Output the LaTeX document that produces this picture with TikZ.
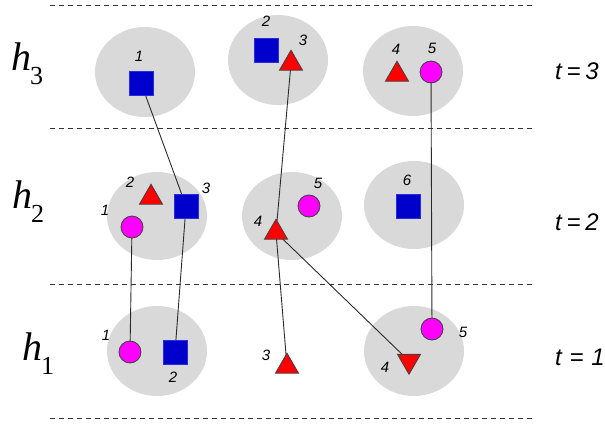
\documentclass[tikz,border=0pt]{standalone}
\usepackage{fontspec}
\newfontfamily\labfont{Liberation Sans}
\newfontfamily\hfont{Liberation Serif}
\usetikzlibrary{shapes.geometric}
\pgfdeclarelayer{bg}
\pgfsetlayers{bg,main}
\definecolor{cellgray}{HTML}{D9D9D9}
\definecolor{sqblue}{HTML}{0000CC}
\definecolor{sqedge}{HTML}{2A2AE0}
\definecolor{trired}{HTML}{FF0000}
\definecolor{circmag}{HTML}{FF00FF}
\definecolor{linkcol}{HTML}{2A2A2A}
\tikzset{
  cell/.style={fill=cellgray},
  sepline/.style={draw=black!80, line width=0.9pt, dash pattern=on 5pt off 4pt},
  sqnode/.style={rectangle, minimum size=23.5pt, inner sep=0pt, fill=sqblue, draw=sqedge, line width=0.5pt},
  cnode/.style={circle, minimum size=22pt, inner sep=0pt, fill=circmag, draw=black!75, line width=0.8pt},
  tnode/.style={regular polygon, regular polygon sides=3, minimum size=26.6pt, inner sep=0pt, fill=trired, draw=black!75, line width=0.8pt},
  tdown/.style={tnode, shape border rotate=180},
  lab/.style={font=\labfont\itshape\fontsize{15}{15}\selectfont, inner sep=0pt},
  tlab/.style={font=\labfont\itshape\fontsize{24}{24}\selectfont, inner sep=0pt, anchor=base west},
  hlab/.style={inner sep=0pt, anchor=base west},
  link/.style={draw=linkcol, line width=0.9pt},
}
\newcommand{\hname}[1]{{\hfont\fontsize{40}{40}\selectfont\itshape h}\kern-1pt\raisebox{-14pt}{\hfont\fontsize{26}{26}\selectfont #1}}
\begin{document}
\begin{tikzpicture}[x=1pt,y=-1pt]
\useasboundingbox (0,0) rectangle (605,423);
% cells
\begin{pgfonlayer}{bg}
\fill[cell] (145,72) ellipse [x radius=50, y radius=45];
\fill[cell] (278,60) ellipse [x radius=50, y radius=45];
\fill[cell] (413,71) ellipse [x radius=50, y radius=45];
\fill[cell] (157,216) ellipse [x radius=50, y radius=44];
\fill[cell] (292,216) ellipse [x radius=50, y radius=44];
\fill[cell] (414,205) ellipse [x radius=50, y radius=44];
\fill[cell] (157,351) ellipse [x radius=50, y radius=45];
\fill[cell] (414,351) ellipse [x radius=50, y radius=45];
\end{pgfonlayer}
% separators
\draw[sepline] (50,5) -- (533,5);
\draw[sepline] (50,128) -- (533,128);
\draw[sepline] (50,284) -- (533,284);
\draw[sepline] (50,418) -- (533,418);
% row labels
\node[hlab] (h3) at (11,70) {\hname{3}};
\node[hlab] (h2) at (12,208) {\hname{2}};
\node[hlab] (h1) at (22,360) {\hname{1}};
\node[tlab] (t3) at (555,79) {t\hspace{0.2em}=\hspace{0.2em}3};
\node[tlab] (t2) at (555,230) {t\hspace{0.2em}=\hspace{0.2em}2};
\node[tlab] (t1) at (555,365) {t\hspace{0.32em}=\hspace{0.32em}1};
% t = 3 row
\node[sqnode] (a1) at (141,83) {};
\node[sqnode] (a2) at (266,50) {};
\node[tnode]  (a3) at (291,63.5) {};
\node[tnode]  (a4) at (397,74.5) {};
\node[cnode]  (a5) at (431,72) {};
\node[lab] (la1) at (139,56) {1};
\node[lab] (la2) at (266,21) {2};
\node[lab] (la3) at (303,40) {3};
\node[lab] (la4) at (396,49) {4};
\node[lab] (la5) at (432,48) {5};
% t = 2 row
\node[cnode]  (b1) at (132,227) {};
\node[tnode]  (b2) at (151,197.5) {};
\node[sqnode] (b3) at (186,206) {};
\node[tnode]  (b4) at (276,232.5) {};
\node[cnode]  (b5) at (309,206) {};
\node[sqnode] (b6) at (408,206) {};
\node[lab] (lb1) at (105,210) {1};
\node[lab] (lb2) at (130,182) {2};
\node[lab] (lb3) at (206,188) {3};
\node[lab] (lb4) at (258,221) {4};
\node[lab] (lb5) at (318,183) {5};
\node[lab] (lb6) at (407,180) {6};
% t = 1 row
\node[cnode]  (c1) at (130,352) {};
\node[sqnode] (c2) at (175,352) {};
\node[tnode]  (c3) at (287,366.5) {};
\node[tdown]  (c4) at (409,361) {};
\node[cnode]  (c5) at (432,329) {};
\node[lab] (lc1) at (106,335) {1};
\node[lab] (lc2) at (173,377) {2};
\node[lab] (lc3) at (266,355) {3};
\node[lab] (lc4) at (385,367) {4};
\node[lab] (lc5) at (463,332) {5};
% links
\begin{pgfonlayer}{bg}
\draw[link] (a1.center) -- (b3.center);
\draw[link] (a3.center) -- (b4.center);
\draw[link] (a5.center) -- (c5.center);
\draw[link] (b1.center) -- (c1.center);
\draw[link] (b3.center) -- (c2.center);
\draw[link] (b4.center) -- (c3.center);
\draw[link] (b4.center) -- (c4.center);
\end{pgfonlayer}
\end{tikzpicture}
\end{document}
